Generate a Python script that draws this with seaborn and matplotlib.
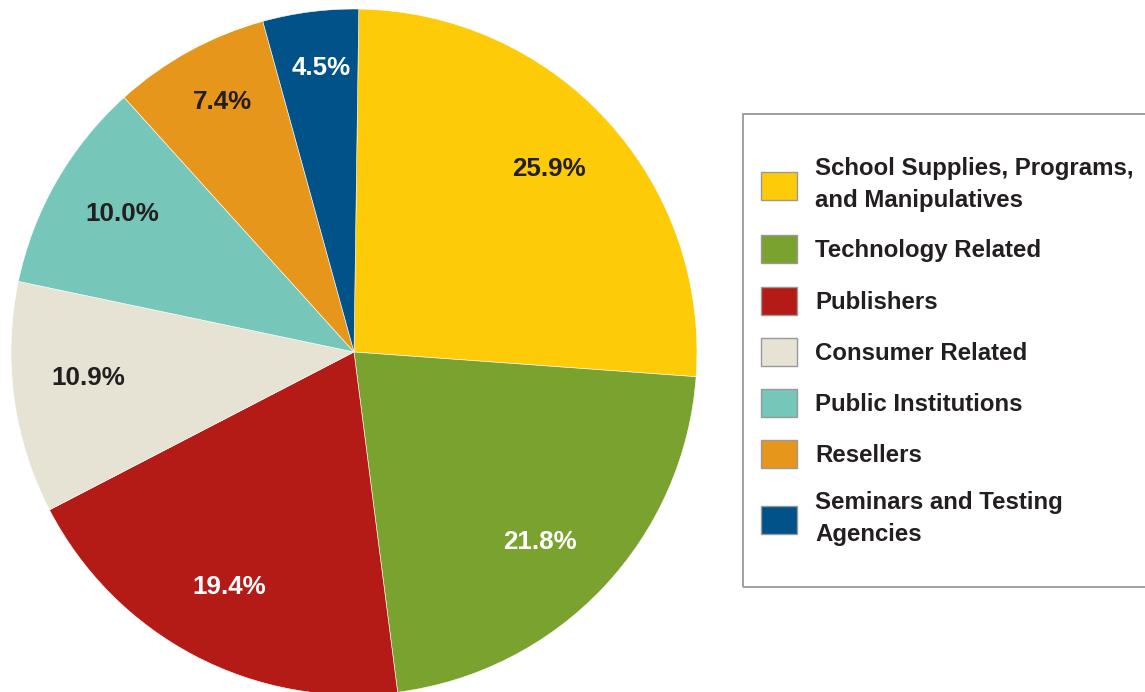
import matplotlib
matplotlib.use("Agg")
import matplotlib.pyplot as plt
import matplotlib.patches as mpatches
import numpy as np
import seaborn as sns

# Revenue share by customer segment
categories = [
    "School Supplies, Programs,\nand Manipulatives",
    "Technology Related",
    "Publishers",
    "Consumer Related",
    "Public Institutions",
    "Resellers",
    "Seminars and Testing\nAgencies",
]
shares = [25.9, 21.8, 19.4, 10.9, 10.0, 7.4, 4.5]
pct_labels = ["25.9%", "21.8%", "19.4%", "10.9%", "10.0%", "7.4%", "4.5%"]

colors = ["#FDCB08", "#7AA22F", "#B41B17", "#E6E3D4", "#76C7BA", "#E7961C", "#005288"]
label_colors = ["#231F20", "white", "white", "#231F20", "#231F20", "#231F20", "white"]
# radial distance of each percentage label (fraction of radius) and a small angular nudge
label_radius = [0.78, 0.775, 0.775, 0.778, 0.787, 0.824, 0.834]
label_nudge_deg = [0.7, -2.2, -0.4, -2.2, -0.8, -1.0, -0.7]

sns.set_theme(style="white")
plt.rcParams["font.family"] = ["Liberation Sans", "DejaVu Sans"]
palette = sns.color_palette(colors)
text_dark = "#231F20"
font_pt = 17.3

W, H = 1145, 692
fig = plt.figure(figsize=(W / 100, H / 100), dpi=100)
fig.patch.set_facecolor("white")

cx, cy, r = 354, 352, 343
ax = fig.add_axes([(cx - r) / W, (H - cy - r) / H, 2 * r / W, 2 * r / H])
wedges, _ = ax.pie(
    shares,
    colors=palette,
    startangle=89.2,
    counterclock=False,
    radius=1.0,
    wedgeprops=dict(edgecolor="white", linewidth=0.4),
)
ax.set_xlim(-1, 1)
ax.set_ylim(-1, 1)
ax.set_aspect("equal")
ax.axis("off")

for w, txt, tc, rd, nd in zip(wedges, pct_labels, label_colors, label_radius, label_nudge_deg):
    mid = np.deg2rad((w.theta1 + w.theta2) / 2 + nd)
    ax.text(rd * np.cos(mid), rd * np.sin(mid), txt, ha="center", va="center",
            fontsize=18.7, fontweight="bold", color=tc)

# legend entries
handles = [mpatches.Patch(facecolor=c, edgecolor="#999999", linewidth=1.0) for c in palette]
leg = fig.legend(
    handles, categories,
    loc="upper left",
    bbox_to_anchor=(761 / W, 1 - 157 / H),
    prop=dict(weight="bold", size=font_pt),
    frameon=False,
    handlelength=1.5,
    handleheight=1.42,
    handletextpad=0.75,
    borderpad=0,
    labelspacing=0.96,
    borderaxespad=0,
)
for t in leg.get_texts():
    t.set_color(text_dark)
    t.set_linespacing(1.52)

# legend box outline
fig.add_artist(mpatches.Rectangle(
    (743 / W, 1 - 587 / H), (1165 - 743) / W, (587 - 114) / H,
    transform=fig.transFigure, fill=False, edgecolor="#999999", linewidth=1.3,
))

fig.savefig("out.png", dpi=100, facecolor="white")
